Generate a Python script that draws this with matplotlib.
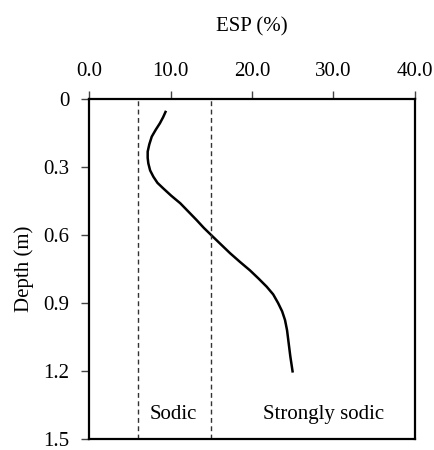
import matplotlib
matplotlib.use("Agg")
import matplotlib.pyplot as plt

plt.rcParams['font.family'] = ['Liberation Serif', 'DejaVu Serif']

esp = [9.45, 9.1, 8.7, 8.2, 7.7, 7.4, 7.2, 7.2, 7.28, 7.5, 7.9, 8.4, 9.1, 10.1, 11.2, 12.2, 13.2, 14.1,
       15.1, 16.2, 17.3, 18.5, 19.75, 20.8, 21.8, 22.6, 23.2, 23.7, 24.05, 24.3, 24.45, 24.7, 25.0]
depth = [0.052, 0.08, 0.107, 0.135, 0.166, 0.2, 0.232, 0.26, 0.284, 0.315, 0.343, 0.37, 0.394, 0.427, 0.46, 0.497, 0.534, 0.569,
         0.604, 0.642, 0.68, 0.718, 0.756, 0.792, 0.828, 0.862, 0.90, 0.937, 0.975, 1.02, 1.063, 1.135, 1.207]
thresholds = [6, 15]
zone_labels = ["Sodic", "Strongly sodic"]
zone_x = [10.3, 28.8]
zone_y = 1.39
xticks = [0, 10, 20, 30, 40]
xticklabels = ["0.0", "10.0", "20.0", "30.0", "40.0"]
yticks = [0, 0.3, 0.6, 0.9, 1.2, 1.5]
yticklabels = ["0", "0.3", "0.6", "0.9", "1.2", "1.5"]

FS = 15
fig = plt.figure(figsize=(4.35, 4.5), dpi=100)
ax = fig.add_axes([89/435, 1 - 439/450, (415-89)/435, (439-99)/450])

ax.plot(esp, depth, color='black', lw=1.8, solid_capstyle='butt', solid_joinstyle='round')
for t in thresholds:
    ax.axvline(t, color='#333333', lw=1.0, ls=(0, (3.5, 2.5)))
for lab, x in zip(zone_labels, zone_x):
    ax.text(x, zone_y, lab, ha='center', va='center', fontsize=FS)

ax.set_xlim(0, 40)
ax.set_ylim(1.5, 0)
ax.xaxis.tick_top()
ax.xaxis.set_label_position('top')
ax.set_xticks(xticks)
ax.set_xticklabels(xticklabels)
ax.set_yticks(yticks)
ax.set_yticklabels(yticklabels)
ax.tick_params(axis='both', direction='out', length=6, width=1.0, labelsize=FS, color='#444444')
ax.tick_params(axis='x', pad=7)
ax.tick_params(axis='y', pad=8)
ax.set_xlabel("ESP (%)", fontsize=FS, labelpad=22)
ax.set_ylabel("Depth (m)", fontsize=FS, labelpad=7)
for s in ax.spines.values():
    s.set_linewidth(1.6)

fig.savefig("out.png", dpi=100)
